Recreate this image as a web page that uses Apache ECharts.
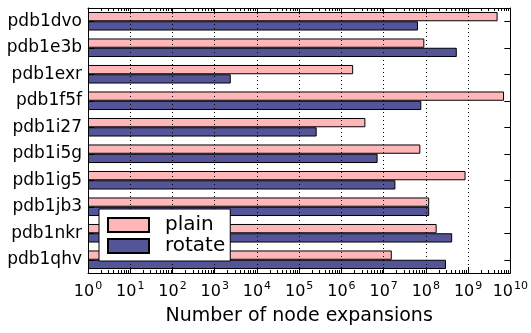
<!DOCTYPE html>
<html>
<head>
<meta charset="utf-8">
<script src="https://cdn.jsdelivr.net/npm/echarts@6/dist/echarts.min.js"></script>
<style>
  html, body { margin: 0; padding: 0; background: #fff; }
  #chart { width: 531px; height: 333px; }
</style>
</head>
<body>
<div id="chart"></div>
<script>
// Protein instances, top to bottom
const categories = ['pdb1dvo', 'pdb1e3b', 'pdb1exr', 'pdb1f5f', 'pdb1i27',
                    'pdb1i5g', 'pdb1ig5', 'pdb1jb3', 'pdb1nkr', 'pdb1qhv'];

// Node expansions per instance
const plainValues  = [5.0e9, 9.2e7, 1.9e6, 7.1e9, 3.7e6, 7.4e7, 8.7e8, 1.2e8, 1.8e8, 1.56e7];
const rotateValues = [6.5e7, 5.4e8, 2.4e3, 7.8e7, 2.6e5, 7.2e6, 1.9e7, 1.2e8, 4.2e8, 3.0e8];

// Decades shown on the log axis
const decadeExponents = [0, 1, 2, 3, 4, 5, 6, 7, 8, 9, 10];

const FONT = 'DejaVu Sans';
const PLAIN = '#ffb6b9';
const ROTATE = '#545499';

// Minor tick positions (2..9 within each decade)
const minorTickValues = [];
for (let i = 0; i < decadeExponents.length - 1; i++) {
  for (let m = 2; m <= 9; m++) {
    minorTickValues.push([m * Math.pow(10, decadeExponents[i]), 0]);
  }
}

const xMin = Math.pow(10, decadeExponents[0]);
const xMax = Math.pow(10, decadeExponents[decadeExponents.length - 1]);
const decadeCount = decadeExponents.length - 1;

function supLabel(v) {
  const e = Math.round(Math.log10(v));
  return '{b|10}{s|' + e + '}';
}

const chart = echarts.init(document.getElementById('chart'), null, { renderer: 'canvas' });

const logAxisBase = {
  type: 'log',
  logBase: 10,
  min: xMin,
  max: xMax,
  interval: 1,
  splitNumber: decadeCount,
  z: 3
};

chart.setOption({
  animation: false,
  backgroundColor: '#fff',
  textStyle: { fontFamily: FONT },
  grid: { left: 88, right: 19, top: 8, bottom: 60, containLabel: false },
  legend: {
    orient: 'vertical',
    left: 99,
    top: 209,
    padding: [6, 5, 5, 8],
    itemGap: 1,
    itemWidth: 41,
    itemHeight: 14,
    icon: 'rect',
    backgroundColor: '#fff',
    borderColor: '#000',
    borderWidth: 1,
    borderRadius: 0,
    textStyle: { fontSize: 20, color: '#000', fontFamily: FONT, padding: [0, 0, 0, 11] },
    data: ['plain', 'rotate']
  },
  xAxis: [
    Object.assign({}, logAxisBase, {
      position: 'bottom',
      axisLine: { show: true, onZero: false, lineStyle: { color: '#000', width: 1 } },
      axisTick: { show: true, inside: true, length: 6, lineStyle: { color: '#000' } },
      splitLine: { show: true, lineStyle: { color: '#000', type: [1, 3], width: 1 } },
      axisLabel: {
        margin: 8,
        color: '#000',
        showMinLabel: true,
        showMaxLabel: true,
        formatter: supLabel,
        rich: {
          b: { fontSize: 16, fontFamily: FONT, color: '#000' },
          s: { fontSize: 11, fontFamily: FONT, color: '#000', verticalAlign: 'top', padding: [0, 0, 10, 1] }
        }
      },
      name: 'Number of node expansions',
      nameLocation: 'middle',
      nameGap: 34,
      nameTextStyle: { fontSize: 19, color: '#000', fontFamily: FONT }
    }),
    Object.assign({}, logAxisBase, {
      position: 'top',
      axisLine: { show: true, onZero: false, lineStyle: { color: '#000', width: 1 } },
      axisTick: { show: true, inside: true, length: 6, lineStyle: { color: '#000' } },
      splitLine: { show: false },
      axisLabel: { show: false }
    })
  ],
  yAxis: [
    {
      type: 'category',
      data: categories,
      inverse: true,
      position: 'left',
      z: 3,
      axisLine: { show: true, lineStyle: { color: '#000', width: 1 } },
      axisTick: { show: true, inside: true, alignWithLabel: true, length: 6, lineStyle: { color: '#000' } },
      axisLabel: { color: '#000', fontSize: 17, fontFamily: FONT, margin: 6 },
      splitLine: { show: false }
    },
    {
      type: 'category',
      data: categories,
      inverse: true,
      position: 'right',
      z: 3,
      axisLine: { show: true, lineStyle: { color: '#000', width: 1 } },
      axisTick: { show: true, inside: true, alignWithLabel: true, length: 6, lineStyle: { color: '#000' } },
      axisLabel: { show: false },
      splitLine: { show: false }
    }
  ],
  series: [
    {
      name: 'plain',
      type: 'bar',
      xAxisIndex: 0,
      yAxisIndex: 0,
      data: plainValues,
      barGap: '0%',
      barCategoryGap: '30%',
      itemStyle: { color: PLAIN, borderColor: '#000', borderWidth: 1 }
    },
    {
      name: 'rotate',
      type: 'bar',
      xAxisIndex: 0,
      yAxisIndex: 0,
      data: rotateValues,
      barGap: '0%',
      barCategoryGap: '30%',
      itemStyle: { color: ROTATE, borderColor: '#000', borderWidth: 1 }
    },
    {
      // minor ticks on the bottom and top edges of the log axis
      name: 'minorTicks',
      type: 'custom',
      xAxisIndex: 0,
      yAxisIndex: 0,
      z: 5,
      silent: true,
      clip: false,
      data: minorTickValues,
      renderItem: function (params, api) {
        const cs = params.coordSys;
        const x = Math.round(api.coord([api.value(0), 0])[0]) + 0.5;
        const top = cs.y;
        const bottom = cs.y + cs.height;
        return {
          type: 'group',
          children: [
            { type: 'line', shape: { x1: x, y1: bottom, x2: x, y2: bottom - 3 }, style: { stroke: '#000', lineWidth: 1 } },
            { type: 'line', shape: { x1: x, y1: top, x2: x, y2: top + 3 }, style: { stroke: '#000', lineWidth: 1 } }
          ]
        };
      }
    }
  ]
});
</script>
</body>
</html>
